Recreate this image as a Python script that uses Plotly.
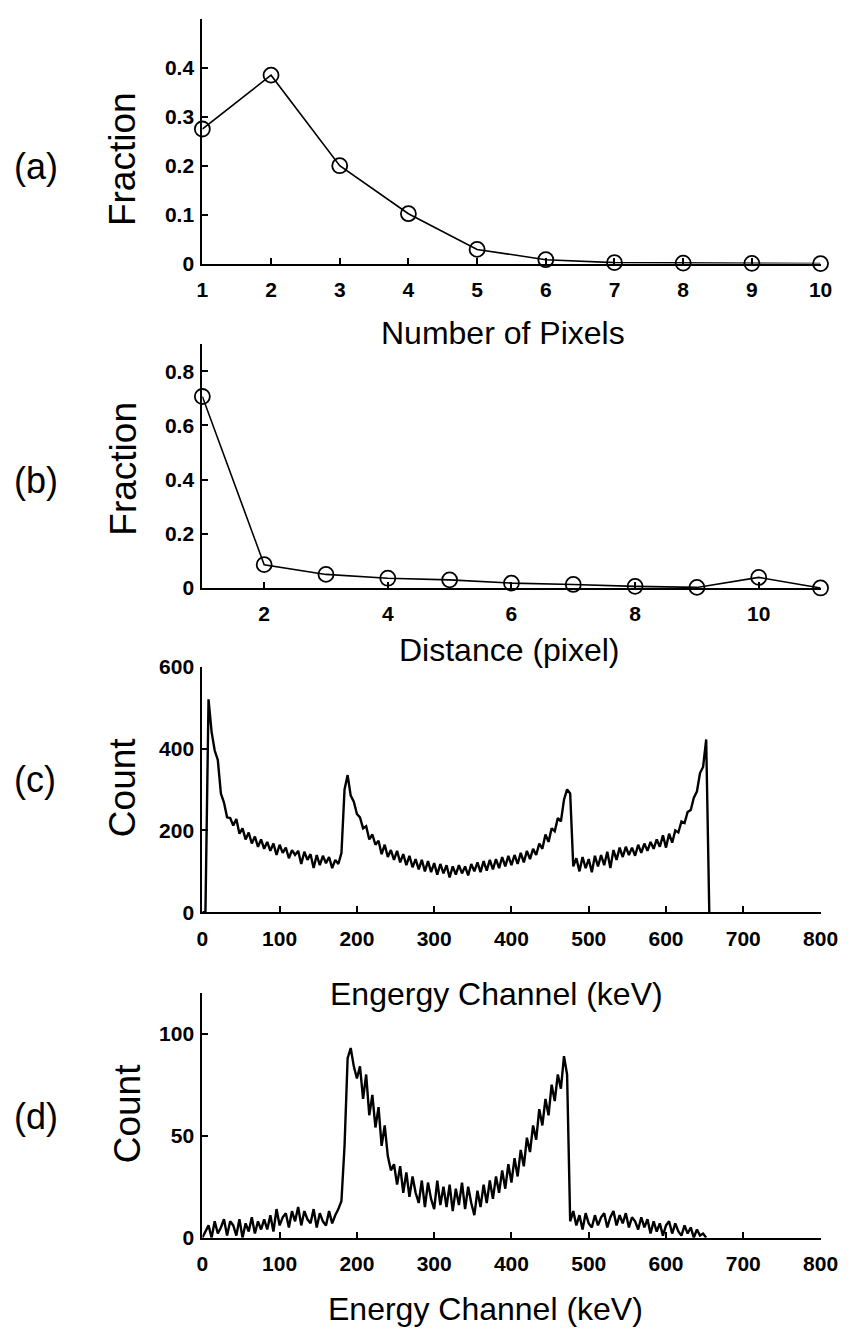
import plotly.graph_objects as go
from plotly.subplots import make_subplots

# ---------------- data ----------------
pixels_a = [1, 2, 3, 4, 5, 6, 7, 8, 9, 10]
fraction_a = [0.275, 0.385, 0.200, 0.102, 0.029, 0.008, 0.002, 0.001, 0.0005, 0.0]

distance_b = [1, 2, 3, 4, 5, 6, 7, 8, 9, 10, 11]
fraction_b = [0.707, 0.086, 0.050, 0.036, 0.030, 0.018, 0.013, 0.006, 0.002, 0.039, 0.0]

# spectrum (c): counts every 4 keV channel, starting at channel 0
channel_step = 4
counts_c = [
    0, 0, 520, 440, 395, 372, 290, 268, 232, 230,
    212, 228, 192, 205, 178, 195, 168, 185, 160, 178,
    155, 172, 150, 168, 140, 165, 145, 158, 132, 152,
    140, 150, 118, 148, 128, 142, 108, 140, 115, 138,
    120, 135, 108, 128, 118, 145, 300, 335, 285, 270,
    240, 232, 205, 210, 178, 190, 165, 175, 142, 165,
    135, 152, 128, 150, 122, 142, 115, 138, 110, 130,
    105, 128, 100, 125, 98, 120, 92, 118, 95, 115,
    85, 112, 92, 115, 95, 112, 90, 118, 100, 122,
    98, 125, 102, 128, 105, 130, 108, 135, 112, 138,
    115, 140, 118, 145, 122, 150, 130, 155, 140, 168,
    155, 190, 172, 205, 198, 230, 222, 275, 300, 290,
    112, 132, 100, 135, 108, 130, 98, 138, 112, 140,
    115, 148, 108, 152, 128, 158, 135, 160, 140, 158,
    138, 165, 145, 168, 150, 172, 155, 178, 160, 188,
    158, 192, 170, 200, 195, 222, 218, 245, 250, 280,
    295, 340, 355, 422, 0,
]

# spectrum (d): counts every 4 keV channel, starting at channel 0
counts_d = [
    0, 3, 6, 0, 8, 2, 5, 9, 1, 8,
    6, 1, 9, 0, 7, 3, 10, 2, 8, 4,
    9, 4, 11, 3, 14, 6, 10, 12, 5, 13,
    8, 15, 6, 13, 9, 7, 14, 5, 12, 8,
    6, 13, 7, 11, 14, 18, 45, 88, 93, 84,
    78, 84, 68, 80, 60, 70, 54, 64, 45, 55,
    40, 33, 36, 26, 35, 22, 32, 20, 30, 22,
    17, 28, 15, 27, 19, 14, 28, 16, 25, 15,
    26, 13, 24, 16, 27, 14, 25, 17, 11, 23,
    15, 26, 17, 28, 19, 30, 22, 33, 24, 36,
    27, 39, 30, 43, 35, 49, 42, 55, 48, 63,
    55, 68, 60, 75, 67, 80, 73, 89, 80, 8,
    13, 6, 11, 4, 12, 7, 5, 11, 6, 10,
    12, 5, 10, 13, 6, 11, 7, 12, 5, 10,
    8, 4, 10, 5, 9, 2, 8, 3, 7, 1,
    6, 8, 2, 7, 3, 1, 6, 2, 5, 0,
    4, 1, 2, 0,
]
channels_c = [i * channel_step for i in range(len(counts_c))]
channels_d = [i * channel_step for i in range(len(counts_d))]

a_xticks = [1, 2, 3, 4, 5, 6, 7, 8, 9, 10]
a_yticks = [0, 0.1, 0.2, 0.3, 0.4]
b_xticks = [2, 4, 6, 8, 10]
b_yticks = [0, 0.2, 0.4, 0.6, 0.8]
e_xticks = [0, 100, 200, 300, 400, 500, 600, 700, 800]
c_yticks = [0, 200, 400, 600]
d_yticks = [0, 50, 100]

# ---------------- figure ----------------
W, H = 858, 1343
FONT = "Liberation Sans, Arial, Helvetica, sans-serif"

fig = make_subplots(rows=4, cols=1)

marker = dict(symbol="circle-open", size=15, color="black", line=dict(width=1.8, color="black"))
fig.add_trace(go.Scatter(x=pixels_a, y=fraction_a, mode="lines+markers",
                         line=dict(color="black", width=1.6), marker=marker,
                         cliponaxis=False, showlegend=False), row=1, col=1)
fig.add_trace(go.Scatter(x=distance_b, y=fraction_b, mode="lines+markers",
                         line=dict(color="black", width=1.6), marker=marker,
                         cliponaxis=False, showlegend=False), row=2, col=1)
fig.add_trace(go.Scatter(x=channels_c, y=counts_c, mode="lines",
                         line=dict(color="black", width=2.4),
                         cliponaxis=False, showlegend=False), row=3, col=1)
fig.add_trace(go.Scatter(x=channels_d, y=counts_d, mode="lines",
                         line=dict(color="black", width=2.4),
                         cliponaxis=False, showlegend=False), row=4, col=1)

x_dom = [202 / W, 838 / W]
y_doms = [(256, 7), (586, 338), (916, 666), (1247, 998)]

common_axis = dict(showline=True, linecolor="black", linewidth=2, showgrid=False,
                   zeroline=False, ticks="inside", ticklen=6, tickwidth=1.5,
                   tickcolor="black", mirror=False,
                   tickfont=dict(family=FONT, size=21, color="black", weight="bold"))

x_specs = [
    dict(range=[1, 10], tickvals=a_xticks),
    dict(range=[1, 11], tickvals=b_xticks),
    dict(range=[0, 800], tickvals=e_xticks),
    dict(range=[0, 800], tickvals=e_xticks),
]
y_specs = [
    dict(range=[0, 0.5], tickvals=a_yticks, ticktext=["0", "0.1", "0.2", "0.3", "0.4"]),
    dict(range=[0, 0.9], tickvals=b_yticks, ticktext=["0", "0.2", "0.4", "0.6", "0.8"]),
    dict(range=[0, 600], tickvals=c_yticks),
    dict(range=[0, 120], tickvals=d_yticks),
]

for i in range(4):
    xname = "xaxis" if i == 0 else f"xaxis{i + 1}"
    yname = "yaxis" if i == 0 else f"yaxis{i + 1}"
    bot, top = y_doms[i]
    fig.layout[xname].update(domain=x_dom, ticklabelstandoff=6, **common_axis, **x_specs[i])
    fig.layout[yname].update(domain=[1 - bot / H, 1 - top / H], ticklabelstandoff=2,
                             **common_axis, **y_specs[i])

def ann(text, px, py, size, angle=0):
    fig.add_annotation(text=text, x=px / W, y=1 - py / H, xref="paper", yref="paper",
                       xanchor="center", yanchor="middle", showarrow=False, textangle=angle,
                       font=dict(family=FONT, size=size, color="black"))

# panel labels
ann("(a)", 31, 157, 36)
ann("(b)", 31, 477, 36)
ann("(c)", 30, 781, 36)
ann("(d)", 31, 1124, 36)
# y titles
ann("Fraction", 120, 150, 37, -90)
ann("Fraction", 120, 465, 37, -90)
ann("Count", 120, 789, 37, -90)
ann("Count", 125, 1121, 37, -90)
# x titles
ann("Number of Pixels", 511, 327, 32)
ann("Distance (pixel)", 518, 649, 32)
ann("Engergy Channel (keV)", 505, 999, 32)
ann("Energy Channel (keV)", 493, 1320, 32)

fig.update_layout(width=W, height=H, margin=dict(l=0, r=0, t=0, b=0),
                  paper_bgcolor="white", plot_bgcolor="white",
                  font=dict(family=FONT, color="black"), showlegend=False)

fig.write_html("out.html")
